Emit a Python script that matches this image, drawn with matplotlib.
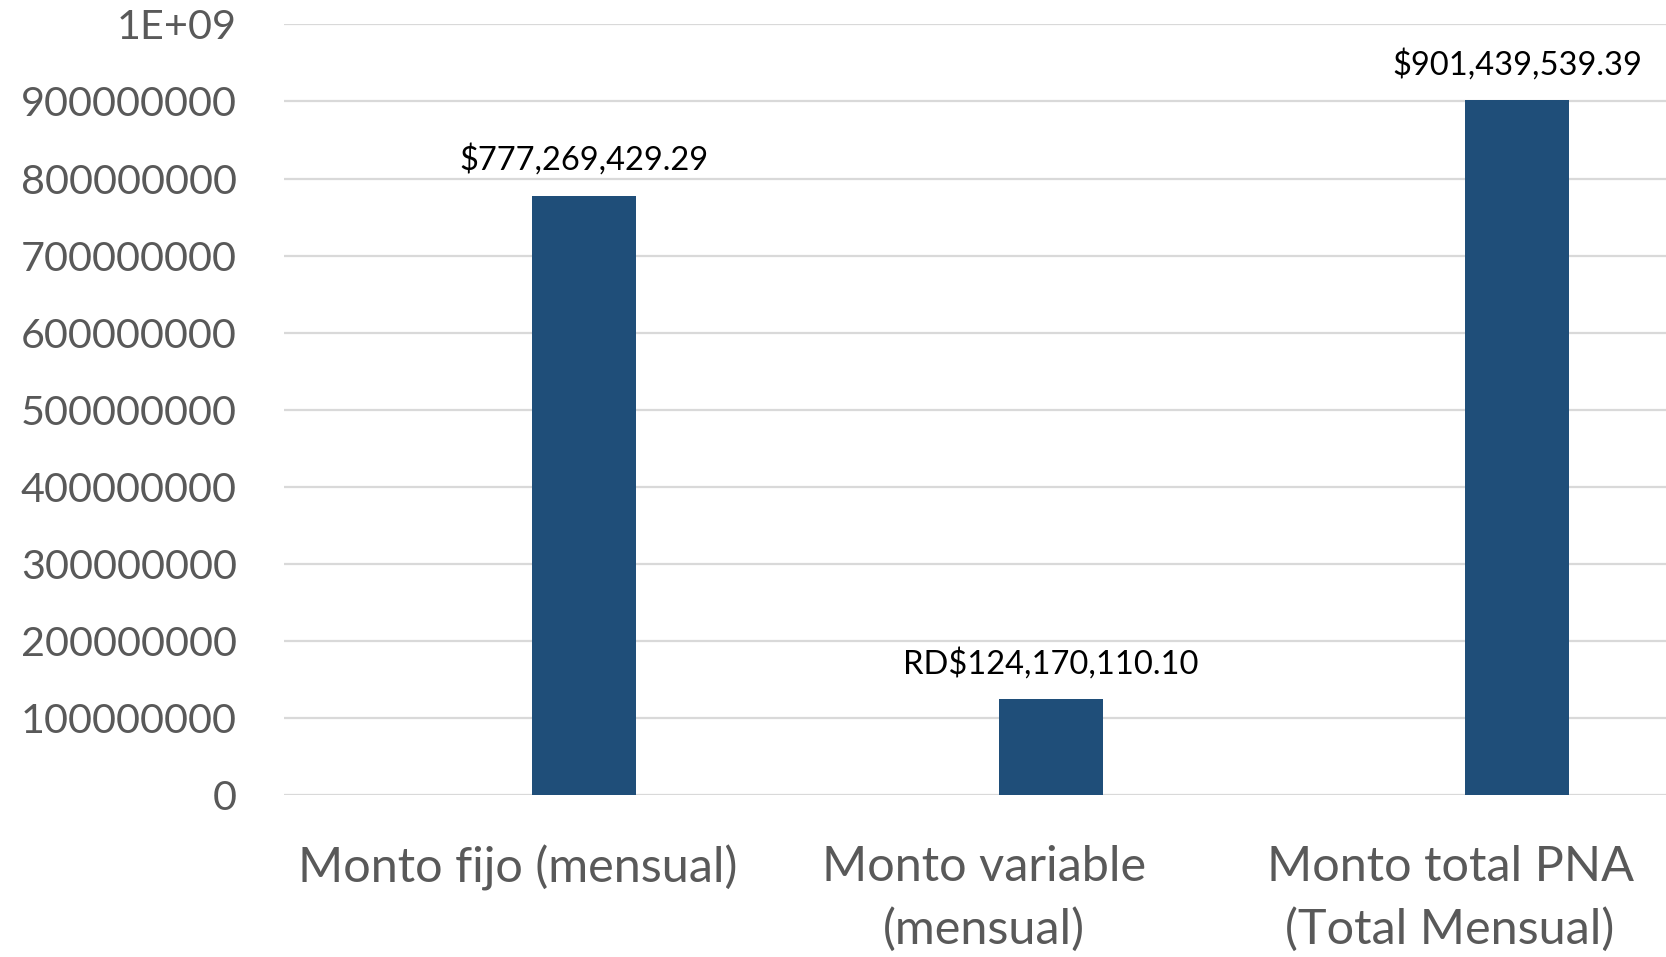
import matplotlib

matplotlib.use("Agg")
import matplotlib.pyplot as plt
from matplotlib.ticker import FixedLocator, FuncFormatter


# Montos del PNA por tipo de pago.
categorias = ["Monto fijo (mensual)", "Monto variable\n(mensual)", "Monto total PNA\n(Total Mensual)"]
montos = [777269429.29, 124170110.10, 901439539.39]
etiquetas = ["$777,269,429.29", "RD$124,170,110.10", "$901,439,539.39"]
marcas_y = [0, 1e8, 2e8, 3e8, 4e8, 5e8, 6e8, 7e8, 8e8, 9e8, 1e9]

AZUL = "#1F4E79"
GRIS = "#595959"
REJILLA = "#D9D9D9"

plt.rcParams["font.family"] = ["Lato", "DejaVu Sans"]

fig = plt.figure(figsize=(16.66, 9.57), dpi=100)
ax = fig.add_axes([0.1705, 0.1693, 0.8295, 0.8052])

# Las barras van corridas a la derecha del centro de cada categoría.
desplazamiento = 0.1435
pos = [i + desplazamiento for i in range(len(montos))]
barras = ax.bar(pos, montos, width=0.223, color=AZUL, zorder=3)

for b, txt in zip(barras, etiquetas):
    ax.annotate(txt, (b.get_x() + b.get_width() / 2, b.get_height()),
                textcoords="offset points", xytext=(0, 26), ha="center", va="center",
                fontsize=23.5, color="black")

ax.set_xlim(-0.5, 2.463)
ax.set_ylim(0, 1e9)
ax.set_xticks(range(len(categorias)))
ax.set_xticklabels(categorias, fontsize=35, color=GRIS, linespacing=1.5)
ax.yaxis.set_major_locator(FixedLocator(marcas_y))
ax.yaxis.set_major_formatter(FuncFormatter(lambda v, _: "1E+09" if v >= 1e9 else f"{int(v)}"))
ax.tick_params(axis="y", labelsize=29.8, labelcolor=GRIS, length=0, pad=34)
ax.tick_params(axis="x", length=0, pad=36)

ax.grid(axis="y", color=REJILLA, linewidth=1.6, zorder=0)
for s in ax.spines.values():
    s.set_visible(False)

fig.savefig("out.png", dpi=100)
